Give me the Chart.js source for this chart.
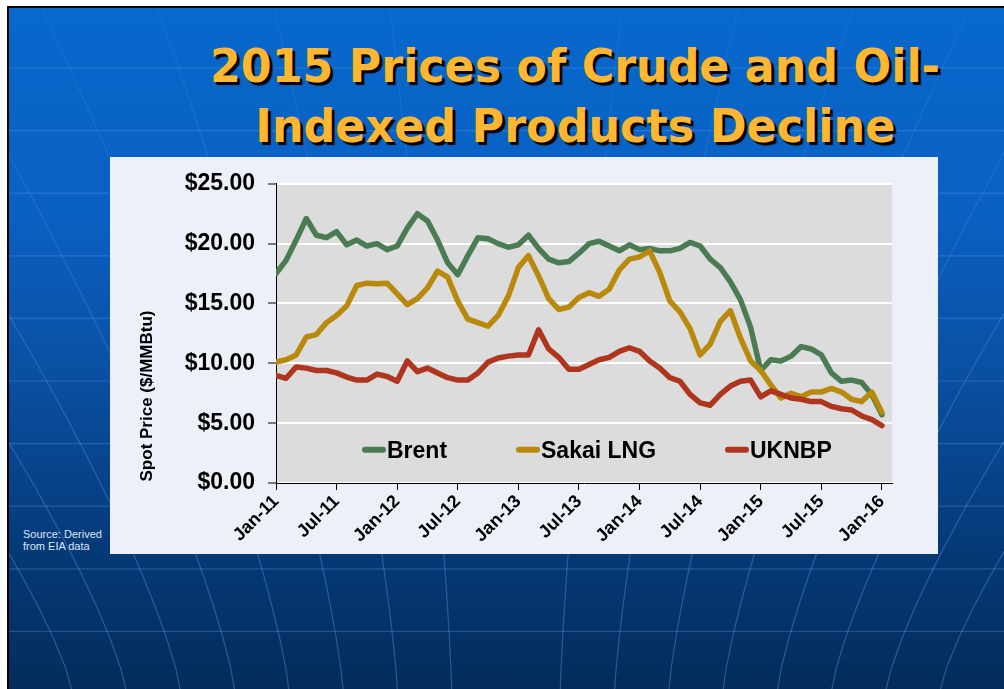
<!DOCTYPE html>
<html>
<head>
<meta charset="utf-8">
<script src="https://cdn.jsdelivr.net/npm/chart.js@4/dist/chart.umd.min.js"></script>
<style>
  html, body { margin: 0; padding: 0; background: #fff; }
  body { width: 1004px; height: 689px; position: relative; overflow: hidden; font-family: "Liberation Sans", Arial, sans-serif; }
  #slide { position: absolute; left: 7px; top: 6px; width: 1000px; height: 690px;
    border-left: 2px solid #000; border-top: 2px solid #000;
    background: linear-gradient(180deg, #0868cc 0%, #0a60c2 30%, #0a4e9f 55%, #053a78 78%, #032b59 100%); }
  #deco { position: absolute; left: 0; top: 0; }
  .ttl { position: absolute; left: 0; width: 1150px; text-align: center; white-space: nowrap;
    font-family: "DejaVu Sans", Verdana, sans-serif; font-weight: bold; font-size: 47px; line-height: 47px;
    color: #ffb633; text-shadow: 3px 3px 1px #000; }
  .ttl span { display: inline-block; }
  #panel { position: absolute; left: 110px; top: 157px; width: 828px; height: 397px; background: #eef0f9; }
  #src { position: absolute; left: 23px; top: 528px; font-size: 11px; line-height: 12px; color: #dfe6f5; }
</style>
</head>
<body>
<div id="slide"><svg id="deco" width="1000" height="690"></svg></div>
<div class="ttl" id="t1" style="top:42px"><span>2015 Prices of Crude and Oil-</span></div>
<div class="ttl" id="t2" style="top:102px"><span>Indexed Products Decline</span></div>
<div id="src">Source: Derived<br>from EIA data</div>
<div id="panel"><canvas id="lineChart"></canvas></div>
<script>
// series names
var seriesNames = ['Brent', 'Sakai LNG', 'UKNBP'];

// monthly spot prices, Jan-11 .. Jan-16 ($/MMBtu)
var brent = [17.5, 18.6, 20.3, 22.1, 20.7, 20.5, 21.0, 19.9, 20.3, 19.8,
             20.0, 19.5, 19.8, 21.3, 22.5, 21.9, 20.3, 18.4, 17.4, 19.0,
             20.5, 20.4, 20.0, 19.7, 19.9, 20.7, 19.6, 18.7, 18.4, 18.5,
             19.2, 20.0, 20.2, 19.8, 19.4, 19.9, 19.5, 19.6, 19.4, 19.4,
             19.6, 20.1, 19.8, 18.7, 18.0, 16.8, 15.3, 13.0, 9.4, 10.3,
             10.2, 10.6, 11.4, 11.2, 10.7, 9.2, 8.5, 8.6, 8.4, 7.4,
             5.7];
var sakai = [10.1, 10.3, 10.7, 12.2, 12.4, 13.4, 14.0, 14.8, 16.5, 16.7,
             16.65, 16.7, 15.8, 14.9, 15.4, 16.3, 17.7, 17.2, 15.2, 13.7,
             13.4, 13.1, 14.0, 15.6, 18.0, 19.0, 17.3, 15.4, 14.5, 14.7,
             15.5, 15.9, 15.6, 16.2, 17.8, 18.7, 18.9, 19.4, 17.6, 15.2,
             14.3, 12.9, 10.7, 11.6, 13.5, 14.4, 12.1, 10.2, 9.4, 8.2,
             7.1, 7.5, 7.2, 7.6, 7.6, 7.9, 7.6, 7.0, 6.8, 7.6,
             5.9];
var uknbp = [9.0, 8.75, 9.7, 9.6, 9.4, 9.4, 9.2, 8.85, 8.6, 8.6,
             9.1, 8.9, 8.5, 10.2, 9.3, 9.6, 9.2, 8.8, 8.6, 8.6,
             9.2, 10.1, 10.45, 10.6, 10.7, 10.7, 12.8, 11.2, 10.5, 9.5,
             9.5, 9.9, 10.3, 10.5, 11.0, 11.3, 11.0, 10.2, 9.6, 8.8,
             8.5, 7.4, 6.7, 6.5, 7.4, 8.1, 8.5, 8.6, 7.2, 7.7,
             7.4, 7.1, 7.0, 6.8, 6.8, 6.4, 6.2, 6.1, 5.6, 5.3,
             4.8];

// x tick labels and the month index they sit on
var tickLabels = ['Jan-11','Jul-11','Jan-12','Jul-12','Jan-13','Jul-13','Jan-14','Jul-14','Jan-15','Jul-15','Jan-16'];
var tickMonths = [0, 6, 12, 18, 24, 30, 36, 42, 48, 54, 60];

var yTicks = [0, 5, 10, 15, 20, 25];

var lineColors = ['#4b7b52', '#b8890a', '#b0351f'];

// slide background: faint globe lines
(function drawDeco() {
    var svg = document.getElementById('deco');
    var s = '<defs><linearGradient id="fade" x1="0" y1="0" x2="0" y2="1">' +
        '<stop offset="0" stop-color="rgb(110,170,255)" stop-opacity="0.08"/>' +
        '<stop offset="0.6" stop-color="rgb(110,170,255)" stop-opacity="0.3"/>' +
        '<stop offset="1" stop-color="rgb(110,170,255)" stop-opacity="0.35"/></linearGradient></defs>';
    for (var y = 60; y < 690; y += 62.6) {
        s += '<line x1="0" y1="' + y + '" x2="1000" y2="' + y + '" stroke="rgba(110,170,255,0.28)" stroke-width="1.2"/>';
    }
    for (var k = -8; k <= 8; k++) {
        var pts = [];
        for (var yy = 0; yy <= 690; yy += 30) {
            var sp = 54 + 62 * Math.pow((690 - yy) / 690, 1.3);
            pts.push((497 + k * sp).toFixed(1) + ',' + yy);
        }
        s += '<polyline fill="none" points="' + pts.join(' ') + '" stroke="url(#fade)" stroke-width="1.2"/>';
    }
    svg.innerHTML = s;
})();

// squeeze title lines to the width they take on the slide
function fitTitle(id, target) {
    var sp = document.querySelector('#' + id + ' span');
    var w = sp.getBoundingClientRect().width;
    sp.style.transform = 'scaleX(' + (target / w) + ')';
}
fitTitle('t1', 730);
fitTitle('t2', 640);

function toPoints(arr) {
    return arr.map(function (v, i) { return { x: i, y: v }; });
}

var plotExtras = {
    id: 'plotExtras',
    beforeDraw: function (chart) {
        var a = chart.chartArea;
        var ctx = chart.ctx;
        ctx.save();
        ctx.fillStyle = '#dcdcdc';
        ctx.fillRect(a.left, a.top, a.right - a.left, a.bottom - a.top);
        ctx.restore();
    },
    afterDatasetsDraw: function (chart) {
        var ctx = chart.ctx;
        var a = chart.chartArea;
        // legend inside the plot
        var legX = [a.left + 86, a.left + 240, a.left + 449];
        var legY = a.top + 266;
        ctx.save();
        ctx.font = 'bold 23px "Liberation Sans", Arial, sans-serif';
        ctx.textBaseline = 'alphabetic';
        for (var i = 0; i < seriesNames.length; i++) {
            ctx.strokeStyle = lineColors[i];
            ctx.lineWidth = 6;
            ctx.lineCap = 'round';
            ctx.beginPath();
            ctx.moveTo(legX[i] + 3, legY);
            ctx.lineTo(legX[i] + 21, legY);
            ctx.stroke();
            ctx.fillStyle = '#000';
            ctx.fillText(seriesNames[i], legX[i] + 25, legY + 8);
        }
        // y axis title
        ctx.translate(37, 239);
        ctx.rotate(-Math.PI / 2);
        ctx.font = 'bold 17px "Liberation Sans", Arial, sans-serif';
        ctx.textAlign = 'center';
        ctx.textBaseline = 'middle';
        ctx.fillText('Spot Price ($/MMBtu)', 0, 0);
        ctx.restore();
    }
};

Chart.defaults.font.family = '"Liberation Sans", Arial, sans-serif';
Chart.defaults.color = '#000';

var ctx = document.getElementById('lineChart').getContext('2d');
new Chart(ctx, {
    type: 'line',
    data: {
        datasets: [
            { label: seriesNames[0], data: toPoints(brent), borderColor: lineColors[0], order: 3 },
            { label: seriesNames[1], data: toPoints(sakai), borderColor: lineColors[1], order: 2 },
            { label: seriesNames[2], data: toPoints(uknbp), borderColor: lineColors[2], order: 1 }
        ]
    },
    options: {
        responsive: true,
        maintainAspectRatio: false,
        animation: false,
        layout: { padding: { top: 22, right: 46, left: 0, bottom: 0 } },
        elements: {
            point: { radius: 0 },
            line: { borderWidth: 5.5, tension: 0, borderCapStyle: 'round', borderJoinStyle: 'round', fill: false }
        },
        plugins: { legend: { display: false }, tooltip: { enabled: false } },
        scales: {
            x: {
                type: 'linear',
                min: 0,
                max: 61,
                afterBuildTicks: function (scale) {
                    scale.ticks = tickMonths.map(function (m) { return { value: m }; });
                },
                afterFit: function (scale) { scale.height = 71; },
                ticks: {
                    autoSkip: false,
                    minRotation: 45,
                    maxRotation: 45,
                    padding: 1,
                    font: { size: 18, weight: 'bold' },
                    callback: function (v) { return tickLabels[tickMonths.indexOf(v)]; }
                },
                grid: { drawOnChartArea: false, color: '#000', tickLength: 7 },
                border: { color: '#000', width: 1 }
            },
            y: {
                min: 0,
                max: 25,
                afterBuildTicks: function (scale) {
                    scale.ticks = yTicks.map(function (v) { return { value: v }; });
                },
                afterFit: function (scale) { scale.width = 166; },
                ticks: {
                    padding: 13,
                    font: { size: 23, weight: 'bold' },
                    callback: function (v) { return '$' + v.toFixed(2); }
                },
                grid: { color: '#ffffff', lineWidth: 2, tickColor: '#000', tickWidth: 1, tickLength: 8 },
                border: { color: '#000', width: 1 }
            }
        }
    },
    plugins: [plotExtras]
});
</script>
</body>
</html>
